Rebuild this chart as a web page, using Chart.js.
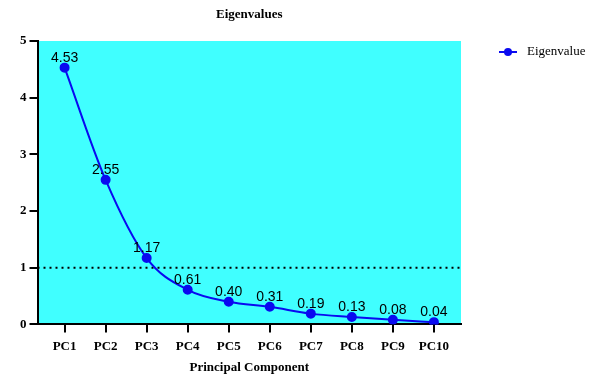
<!DOCTYPE html>
<html lang="en">
<head>
    <meta charset="UTF-8">
    <title>Eigenvalues</title>
    <script src="https://cdn.jsdelivr.net/npm/chart.js"></script>
    <style>
        html, body { margin: 0; padding: 0; background: #fff; }
        #wrap { position: relative; width: 600px; height: 374px; }
    </style>
</head>
<body>
    <div id="wrap">
        <canvas id="screeChart"></canvas>
    </div>

    <script>
        // data
        const components = ['PC1', 'PC2', 'PC3', 'PC4', 'PC5', 'PC6', 'PC7', 'PC8', 'PC9', 'PC10'];
        const eigenvalues = [4.53, 2.55, 1.17, 0.61, 0.40, 0.31, 0.19, 0.13, 0.08, 0.04];
        const yTicks = [0, 1, 2, 3, 4, 5];
        const cutoff = 1; // Kaiser line

        const serif = '"Liberation Serif", "Times New Roman", serif';
        const sans = '"Liberation Sans", Arial, sans-serif';
        const lineBlue = '#0a0af0';

        const xMin = 0.34, xMax = 10.66;

        // cyan plot background, title, value labels and legend
        const decorations = {
            id: 'decorations',
            beforeDraw(chart) {
                const { ctx, chartArea: a } = chart;
                ctx.save();
                ctx.fillStyle = '#40ffff';
                ctx.fillRect(a.left, a.top, a.right - a.left, a.bottom - a.top);
                ctx.restore();
            },
            afterDraw(chart) {
                const { ctx, chartArea: a } = chart;
                ctx.save();
                // title
                ctx.fillStyle = '#000';
                ctx.font = 'bold 13px ' + serif;
                ctx.textAlign = 'center';
                ctx.textBaseline = 'middle';
                ctx.fillText('Eigenvalues', (a.left + a.right) / 2, 15);

                // value labels
                const meta = chart.getDatasetMeta(0);
                ctx.font = '14px ' + sans;
                ctx.textBaseline = 'alphabetic';
                meta.data.forEach((pt, i) => {
                    ctx.fillText(eigenvalues[i].toFixed(2), pt.x, pt.y - 6);
                });

                // legend
                const ly = 52;
                ctx.strokeStyle = lineBlue;
                ctx.lineWidth = 2;
                ctx.beginPath();
                ctx.moveTo(499, ly);
                ctx.lineTo(517, ly);
                ctx.stroke();
                ctx.fillStyle = lineBlue;
                ctx.beginPath();
                ctx.arc(508, ly, 4, 0, Math.PI * 2);
                ctx.fill();
                ctx.fillStyle = '#000';
                ctx.font = '13px ' + serif;
                ctx.textAlign = 'left';
                ctx.textBaseline = 'middle';
                ctx.fillText('Eigenvalue', 527, ly);
                ctx.restore();
            }
        };

        const ctx = document.getElementById('screeChart').getContext('2d');
        const screeChart = new Chart(ctx, {
            type: 'line',
            data: {
                datasets: [{
                    label: 'Eigenvalue',
                    data: eigenvalues.map((v, i) => ({ x: i + 1, y: v })),
                    borderColor: lineBlue,
                    backgroundColor: lineBlue,
                    borderWidth: 2,
                    pointRadius: 4,
                    cubicInterpolationMode: 'monotone'
                }, {
                    label: 'cutoff',
                    data: [{ x: xMin, y: cutoff }, { x: xMax, y: cutoff }],
                    borderColor: '#000',
                    borderWidth: 2,
                    borderDash: [2, 4],
                    pointRadius: 0
                }]
            },
            options: {
                responsive: true,
                maintainAspectRatio: false,
                animation: false,
                layout: {
                    padding: { top: 41, right: 139, left: 17, bottom: 0 }
                },
                scales: {
                    x: {
                        type: 'linear',
                        min: xMin,
                        max: xMax,
                        afterBuildTicks(axis) {
                            axis.ticks = components.map((c, i) => ({ value: i + 1 }));
                        },
                        ticks: {
                            autoSkip: false,
                            callback: (v) => components[v - 1],
                            color: '#000',
                            font: { family: serif, size: 13, weight: 'bold' },
                            padding: 6
                        },
                        grid: {
                            drawOnChartArea: false,
                            drawTicks: true,
                            tickLength: 8,
                            color: '#000',
                            lineWidth: 2
                        },
                        border: { display: true, color: '#000', width: 2 },
                        title: {
                            display: true,
                            text: 'Principal Component',
                            color: '#000',
                            font: { family: serif, size: 13, weight: 'bold', lineHeight: 1 },
                            padding: { top: 1, bottom: 0 }
                        }
                    },
                    y: {
                        min: 0,
                        max: 5,
                        afterBuildTicks(axis) {
                            axis.ticks = yTicks.map(v => ({ value: v }));
                        },
                        ticks: {
                            color: '#000',
                            font: { family: serif, size: 13, weight: 'bold' },
                            padding: 3
                        },
                        grid: {
                            drawOnChartArea: false,
                            drawTicks: true,
                            tickLength: 8,
                            color: '#000',
                            lineWidth: 2
                        },
                        border: { display: true, color: '#000', width: 2 }
                    }
                },
                plugins: {
                    legend: { display: false },
                    tooltip: { enabled: false }
                }
            },
            plugins: [decorations]
        });
    </script>
</body>
</html>
